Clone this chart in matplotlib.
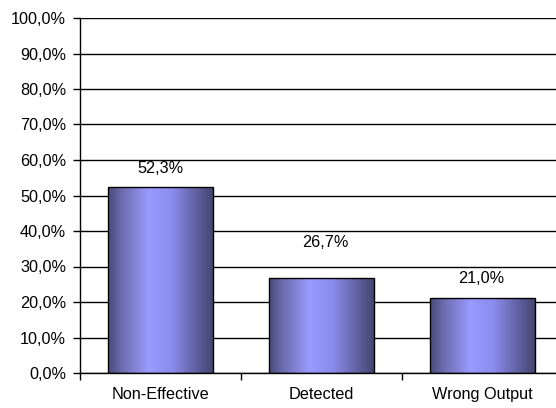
import numpy as np
import matplotlib
matplotlib.use("Agg")
import matplotlib.pyplot as plt
from matplotlib.colors import LinearSegmentedColormap
from matplotlib.ticker import MultipleLocator, FuncFormatter

categories = ["Non-Effective", "Detected", "Wrong Output"]
values = [52.3, 26.7, 21.0]
value_labels = ["52,3%", "26,7%", "21,0%"]

plt.rcParams["font.family"] = ["Liberation Sans", "DejaVu Sans"]
FS = 11.7

fig = plt.figure(figsize=(5.56, 4.08), dpi=100)
W, H = 556, 408
left, right, top, bottom = 80, 563, 18, 373
ax = fig.add_axes([left / W, 1 - bottom / H, (right - left) / W, (bottom - top) / H])

x = np.arange(len(categories))
bar_w = 0.655
bars = ax.bar(x, values, width=bar_w, color="none", edgecolor="black", linewidth=1.0, zorder=3)

# horizontal shading across each bar: dark edges, light centre
cmap = LinearSegmentedColormap.from_list(
    "shade",
    [(0.0, "#4a4a7c"), (0.12, "#6a6aaa"), (0.38, "#9a9aff"), (0.60, "#8c8cee"),
     (0.85, "#5e5e9c"), (1.0, "#44446e")])
grad = np.linspace(0, 1, 256).reshape(1, -1)
for b in bars:
    bx, by = b.get_x(), b.get_y()
    bw, bh = b.get_width(), b.get_height()
    im = ax.imshow(grad, cmap=cmap, aspect="auto", extent=(bx, bx + bw, by, by + bh),
                   zorder=2, interpolation="bilinear")
    im.set_clip_path(b)

# value labels, lifted clear of the gridlines
label_offsets = [(0, 13.7), (3, 26), (-1, 14.4)]
for xi, v, lab, off in zip(x, values, value_labels, label_offsets):
    ax.annotate(lab, (xi, v), xytext=off, textcoords="offset points",
                ha="center", va="center", fontsize=FS, color="black")

ax.set_xlim(-0.5, len(categories) - 0.5)
ax.set_ylim(0, 100)
ax.yaxis.set_major_locator(MultipleLocator(10))
ax.yaxis.set_major_formatter(FuncFormatter(lambda v, p: f"{v:.1f}%".replace(".", ",")))
ax.grid(axis="y", color="black", linewidth=1.0, zorder=1)
ax.set_axisbelow(True)

ax.set_xticks(x)
ax.set_xticklabels(categories, fontsize=FS)
ax.tick_params(axis="x", length=0, pad=10)
ax.set_xticks(np.arange(-0.5, len(categories)), minor=True)
ax.tick_params(axis="x", which="minor", length=5, width=1, color="black")
ax.tick_params(axis="y", length=5, width=1, labelsize=FS, pad=5)

for s in ["top", "right"]:
    ax.spines[s].set_visible(False)
ax.spines["left"].set_linewidth(1.0)
ax.spines["bottom"].set_linewidth(1.0)

fig.savefig("out.png", dpi=100, facecolor="white")
